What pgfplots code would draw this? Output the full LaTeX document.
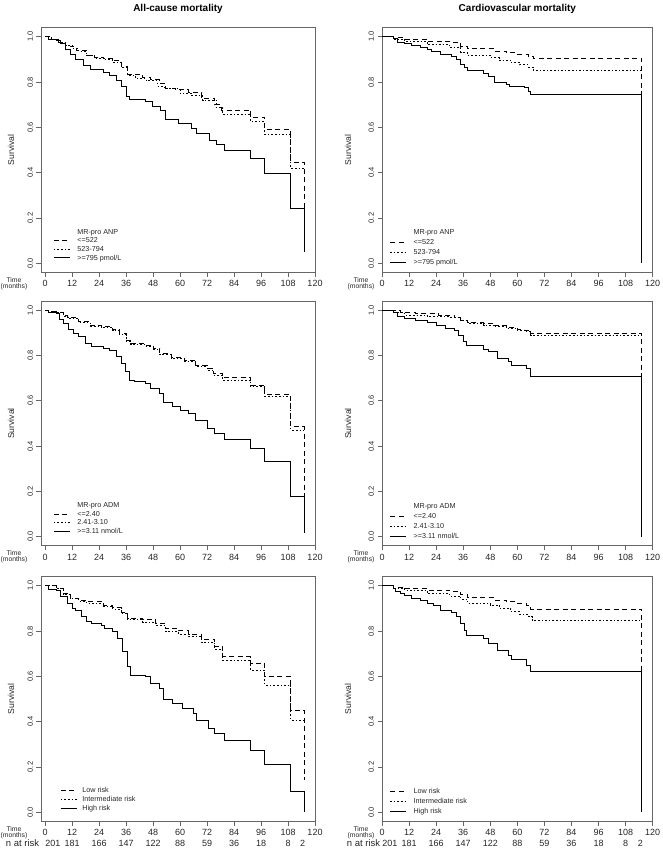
\documentclass[border=0pt]{standalone}
\usepackage{fontspec}
\setmainfont{Liberation Sans}
\usepackage{pgfplots}
\pgfplotsset{compat=1.18}

\pgfplotsset{
  km/.style={
    scale only axis, height=244.7pt,
    xmax=120, ymin=-0.04, ymax=1.04,
    xtick={0,12,...,120}, ytick={0,0.2,0.4,0.6,0.8,1},
    tick align=outside, major tick length=4.5pt,
    xtick pos=bottom, ytick pos=left,
    axis line style={black!60, line width=0.6pt},
    every tick/.style={black!60, line width=0.6pt},
    /pgf/number format/assume math mode=true,
    xticklabel style={font=\fontsize{9}{10}\selectfont, text=black!85},
    yticklabel style={font=\fontsize{7.5}{8}\selectfont, text=black!85, rotate=90, anchor=south,
      /pgf/number format/fixed, /pgf/number format/fixed zerofill, /pgf/number format/precision=1},
    ylabel={Survival},
    clip=false, no markers,
    legend cell align=left,
    legend image code/.code={\draw[##1] (0pt,0pt) -- (16pt,0pt);},
    every axis plot/.append style={const plot, black, line width=1pt},
  },
  kmleft/.style={km, width=274pt, xmin=-1.8,
    every axis y label/.style={at={(rel axis cs:0,0.5)}, xshift=-30pt, rotate=90, anchor=center,
      font=\fontsize{8.6}{9}\selectfont, text=black!85}},
  kmright/.style={km, width=270.7pt, xmin=0,
    every axis y label/.style={at={(rel axis cs:0,0.5)}, xshift=-34pt, rotate=90, anchor=center,
      font=\fontsize{8.6}{9}\selectfont, text=black!85}},
  toptitle/.style={title={#1}, title style={at={(rel axis cs:0.5,1)}, anchor=center, yshift=13pt,
      font=\fontsize{10}{12}\selectfont\bfseries}},
  leg/.style n args={4}{legend style={at={(axis cs:#1,#2)}, anchor=south west, draw=none, fill=none,
      inner sep=0pt, row sep=0pt, font=\fontsize{7.2}{8}\selectfont, text=black!85,
      nodes={inner sep=0pt, text height=#3, text depth=2.2pt},
      /tikz/every odd column/.append style={column sep=#4}}},
  dsh/.style={dash pattern=on 5pt off 3.5pt},
  dtt/.style={dash pattern=on 1.6pt off 2pt},
}

\newcommand{\timelab}[1]{\node[font=\fontsize{6.8}{5.8}\selectfont, align=center, text=black!85,
  xshift=#1, yshift=-11pt] at (rel axis cs:0,0) {Time\\(months)};}
\newcommand{\nrisk}[2]{\node[font=\fontsize{9}{10}\selectfont, text=black!85, yshift=-22pt]
  at (axis cs:#1,-0.04) {#2};}
\newcommand{\riskrow}{%
  \node[font=\fontsize{9.5}{10}\selectfont, text=black!85, xshift=-18.5pt, yshift=-22pt] at (rel axis cs:0,0) {n at risk};
  \nrisk{3.5}{201}\nrisk{12}{181}\nrisk{24}{166}\nrisk{36}{147}\nrisk{48}{122}\nrisk{60}{88}
  \nrisk{72}{59}\nrisk{84}{36}\nrisk{96}{18}\nrisk{108}{8}\nrisk{114.5}{2}}

\begin{document}
\begin{tikzpicture}
\path[use as bounding box] (0,0) rectangle (662pt,853pt);

% ---------- row 1: MR-pro ANP ----------
\begin{axis}[kmleft, at={(41pt,580.6pt)}, anchor=south west, toptitle={All-cause mortality},
  leg={3.6}{0.004}{6.4pt}{7pt}]
\addlegendimage{empty legend}\addlegendentry{MR-pro ANP}
\addplot[dsh] table {
0 1.0
3 0.99
6 0.975
9 0.962
11.2 0.956
14 0.94
18.5 0.919
22 0.91
25.8 0.904
30 0.893
33.9 0.868
36.8 0.835
43.4 0.82
47 0.81
50.7 0.794
53.6 0.772
58 0.765
63.8 0.753
69.6 0.728
75.5 0.699
78.4 0.676
91.5 0.644
97.7 0.591
109.3 0.446
115.2 0.24
};
\addlegendentry{<=522}
\addplot[dtt] table {
0 1.0
3 0.99
6 0.975
9 0.96
12 0.948
15 0.935
18.5 0.918
22 0.905
26 0.898
30 0.888
33.9 0.865
36.8 0.83
40 0.816
45 0.805
50 0.782
53 0.77
60 0.75
65 0.74
70 0.72
76 0.688
79 0.657
91.5 0.625
97.7 0.569
109.3 0.419
115.2 0.419
};
\addlegendentry{523-794}
\addplot[solid] table {
0 1.0
1.5 0.99
5 0.985
6.9 0.97
9 0.945
11.2 0.922
13.4 0.9
17.1 0.875
20 0.857
25.8 0.843
28.8 0.831
31.7 0.809
33.9 0.779
36.1 0.735
37.5 0.724
44.8 0.713
47.7 0.694
51.4 0.676
53.6 0.635
59.4 0.615
65.3 0.596
67.4 0.574
73.3 0.544
76.2 0.526
79.6 0.5
91.5 0.463
97.7 0.397
109.3 0.24
115.2 0.049
};
\addlegendentry{>=795 pmol/L}
\timelab{-27pt}
\end{axis}

\begin{axis}[kmright, at={(382pt,580.6pt)}, anchor=south west, toptitle={Cardiovascular mortality},
  leg={3.3}{-0.021}{7pt}{7pt}, legend style={nodes={text depth=3pt}}]
\addlegendimage{empty legend}\addlegendentry{MR-pro ANP}
\addplot[dsh] table {
0 1
5 0.995
10 0.988
20 0.98
30 0.974
35 0.959
38 0.947
50 0.937
55 0.929
60 0.922
65 0.912
67 0.904
115.2 0.74
};
\addlegendentry{<=522}
\addplot[dtt] table {
0 1
5 0.99
10 0.98
20 0.966
30 0.951
35 0.929
38 0.918
48 0.907
52 0.897
57 0.885
61 0.876
65 0.866
67 0.853
115.2 0.853
};
\addlegendentry{523-794}
\addplot[solid] table {
0 1
5 0.991
7 0.976
10 0.969
13 0.962
17 0.951
20 0.944
22 0.937
26 0.922
31 0.915
33 0.9
35 0.878
36.5 0.863
38 0.849
45 0.838
47 0.826
50 0.8
55 0.79
56.5 0.779
63 0.775
65 0.76
66 0.743
115.2 0
};
\addlegendentry{>=795 pmol/L}
\timelab{-21pt}
\end{axis}

% ---------- row 2: MR-pro ADM ----------
\begin{axis}[kmleft, at={(41pt,307.2pt)}, anchor=south west,
  leg={3.6}{0.004}{6.4pt}{7pt}]
\addlegendimage{empty legend}\addlegendentry{MR-pro ADM}
\addplot[dsh] table {
0 1
1.5 0.995
5 0.99
8 0.975
10 0.966
15 0.949
20 0.934
25 0.926
30 0.915
33 0.897
36 0.868
38 0.853
45 0.846
48 0.831
51 0.809
56 0.791
62 0.779
67 0.757
72 0.743
75 0.721
79 0.701
91.5 0.669
97.7 0.628
109.3 0.485
115.2 0.18
};
\addlegendentry{<=2.40}
\addplot[dtt] table {
0 1
1.5 0.995
5 0.99
8 0.972
10 0.963
15 0.946
20 0.93
25 0.922
30 0.91
33 0.893
36 0.862
38 0.848
45 0.84
48 0.826
51 0.803
56 0.786
62 0.772
67 0.75
72 0.735
75 0.712
79 0.691
91.5 0.662
97.7 0.618
109.3 0.471
115.2 0.471
};
\addlegendentry{2.41-3.10}
\addplot[solid] table {
0 1
1.5 0.99
5 0.985
6.5 0.96
8.3 0.94
10.5 0.915
12.7 0.897
14.9 0.882
17.8 0.853
20.7 0.841
25.8 0.831
28.8 0.821
31.7 0.794
33.9 0.765
35.8 0.728
37.5 0.691
39.7 0.684
44.8 0.676
47 0.654
50.7 0.632
52.8 0.591
56.5 0.574
60.1 0.559
63.8 0.544
66.7 0.515
72.3 0.478
75.5 0.456
79.6 0.429
91.5 0.39
97.7 0.331
109.3 0.179
115.2 0.015
};
\addlegendentry{>=3.11 nmol/L}
\timelab{-27pt}
\end{axis}

\begin{axis}[kmright, at={(382pt,307.2pt)}, anchor=south west,
  leg={3.3}{-0.021}{7pt}{7pt}, legend style={nodes={text depth=3pt}}]
\addlegendimage{empty legend}\addlegendentry{MR-pro ADM}
\addplot[dsh] table {
0 1
8 0.99
15 0.985
25 0.978
32 0.966
35 0.956
38 0.944
45 0.941
50 0.931
55 0.924
60 0.916
63 0.912
66 0.897
115.2 0.71
};
\addlegendentry{<=2.40}
\addplot[dtt] table {
0 1
5 0.99
10 0.978
20 0.971
30 0.968
35 0.956
38 0.941
45 0.934
50 0.926
55 0.919
60 0.912
64 0.904
66 0.89
115.2 0.89
};
\addlegendentry{2.41-3.10}
\addplot[solid] table {
0 1
5 0.99
7 0.974
10 0.963
15 0.956
20 0.944
24 0.934
28 0.919
32 0.912
34 0.89
36 0.86
37.5 0.843
45 0.826
47 0.816
51 0.787
56 0.772
57.5 0.757
64 0.743
66 0.709
115.2 0
};
\addlegendentry{>=3.11 nmol/L}
\timelab{-21pt}
\end{axis}

% ---------- row 3: risk groups ----------
\begin{axis}[kmleft, at={(41pt,31.6pt)}, anchor=south west,
  leg={6.7}{-0.0044}{6.8pt}{5pt}]
\addplot[dsh] table {
0 1
5 0.99
8 0.966
11.2 0.944
15 0.935
18.5 0.929
25.8 0.915
30.2 0.903
33.9 0.881
36.8 0.856
43.4 0.849
49.2 0.834
53.6 0.812
59.4 0.801
63.8 0.787
69.6 0.765
75.5 0.734
79.1 0.687
91.5 0.657
97.7 0.599
109.3 0.451
115.2 0.143
};
\addlegendentry{Low risk}
\addplot[dtt] table {
0 1
5 0.99
8 0.962
11.2 0.942
15 0.93
18.5 0.922
25.8 0.907
30.2 0.895
33.9 0.878
36.8 0.849
43.4 0.837
49.2 0.824
53.6 0.797
59.4 0.787
63.8 0.775
69.6 0.749
75.5 0.719
79.1 0.672
91.5 0.628
97.7 0.562
109.3 0.407
115.2 0.407
};
\addlegendentry{Intermediate risk}
\addplot[solid] table {
0 1
1.5 0.985
5 0.98
6.9 0.951
9.8 0.922
12 0.9
13.4 0.89
16.4 0.863
18.5 0.841
20.7 0.834
25.1 0.826
26.6 0.812
30.2 0.797
32.4 0.768
34.6 0.709
36.8 0.643
38.2 0.606
44.8 0.599
47 0.569
50.7 0.547
52.8 0.496
56.5 0.481
60.9 0.459
66 0.437
67.4 0.407
72.6 0.371
75.5 0.349
79.6 0.319
91.5 0.275
97.7 0.209
109.3 0.091
115.2 0
};
\addlegendentry{High risk}
\timelab{-27pt}
\riskrow
\end{axis}

\begin{axis}[kmright, at={(382pt,31.6pt)}, anchor=south west,
  leg={3.3}{-0.02}{7pt}{7pt}, legend style={nodes={text depth=3pt}}]
\addplot[dsh] table {
0 1
5 0.994
10 0.988
20 0.981
30 0.974
35 0.962
38 0.947
50 0.937
55 0.929
60 0.922
64 0.915
66 0.897
115.2 0.62
};
\addlegendentry{Low risk}
\addplot[dtt] table {
0 1
5 0.99
10 0.981
20 0.966
30 0.954
35 0.94
38 0.922
48 0.915
52 0.9
57 0.885
61 0.874
65 0.863
66.5 0.846
115.2 0.846
};
\addlegendentry{Intermediate risk}
\addplot[solid] table {
0 1
5 0.988
6 0.974
8 0.966
10 0.959
13 0.944
17 0.937
20 0.922
23 0.915
26 0.893
31 0.881
33 0.863
35 0.834
36.5 0.804
37.5 0.782
45 0.768
47 0.746
51 0.716
56 0.694
57.5 0.676
64 0.65
66 0.621
115.2 0
};
\addlegendentry{High risk}
\timelab{-21pt}
\riskrow
\end{axis}
\end{tikzpicture}
\end{document}
